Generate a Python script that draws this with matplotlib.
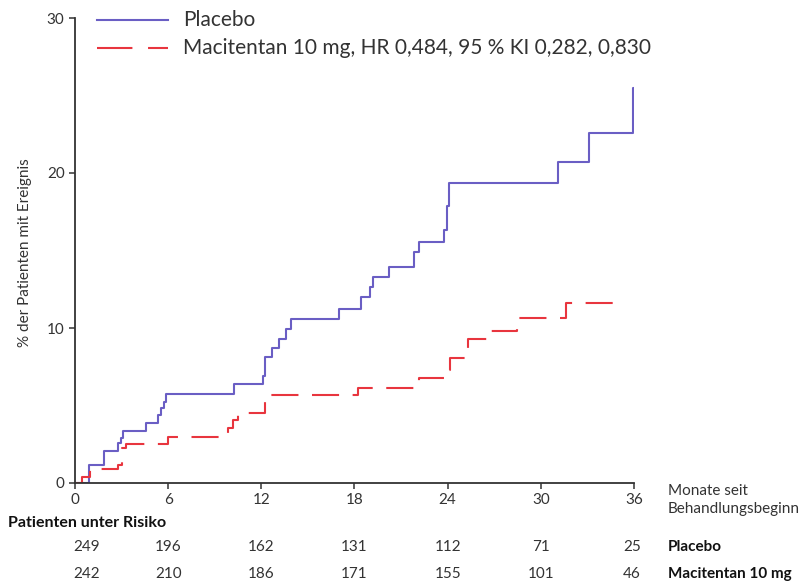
"""Kaplan-Meier style cumulative event curves: Placebo vs Macitentan 10 mg."""

import matplotlib

matplotlib.use("Agg")
import matplotlib.pyplot as plt  # noqa: E402
from matplotlib.lines import Line2D  # noqa: E402

plt.rcParams["font.family"] = ["Lato", "DejaVu Sans"]

# --- data ---
placebo_t = [0, 0.92, 1.89, 2.79, 2.95, 3.11, 4.57, 5.37, 5.51, 5.73, 5.86,
             10.24, 12.08, 12.21, 12.71, 13.11, 13.56, 13.89, 16.98, 18.42,
             19.0, 19.21, 20.22, 21.83, 22.15, 23.76, 23.93, 24.1, 31.08,
             33.08, 35.91, 36]
placebo_y = [0, 1.16, 2.08, 2.56, 2.88, 3.38, 3.89, 4.39, 4.86, 5.25, 5.74,
             6.39, 6.9, 8.1, 8.73, 9.31, 9.94, 10.58, 11.2, 12.02,
             12.67, 13.31, 13.95, 14.88, 15.57, 16.3, 17.87, 19.33, 20.73,
             22.6, 25.46, 25.46]

maci_t = [0, 0.43, 0.97, 2.79, 3.0, 3.3, 6.0, 9.87, 10.2, 10.5, 12.23, 12.45,
          18.2, 22.15, 24.0, 24.15, 25.22, 25.32, 26.72, 28.44, 31.6, 35.4]
maci_y = [0, 0.41, 0.88, 1.16, 2.24, 2.52, 2.99, 3.53, 4.06, 4.54, 5.35, 5.68,
          6.13, 6.8, 7.29, 8.05, 8.69, 9.27, 9.83, 10.67, 11.63, 11.63]

x_ticks = [0, 6, 12, 18, 24, 30, 36]
y_ticks = [0, 10, 20, 30]
risk_placebo = [249, 196, 162, 131, 112, 71, 25]
risk_maci = [242, 210, 186, 171, 155, 101, 46]

PURPLE = "#6a5ec4"
RED = "#e8353e"
GREY = "#333333"

W, H = 812, 584
fig = plt.figure(figsize=(W / 100, H / 100), dpi=100)
ax = fig.add_axes([75 / W, 1 - 483 / H, 559 / W, 465 / H])

ax.step(placebo_t, placebo_y, where="post", color=PURPLE, lw=1.5)
ax.step(maci_t, maci_y, where="post", color=RED, lw=1.5, dashes=(13, 6.5))

ax.set_xlim(0, 36)
ax.set_ylim(0, 30)
ax.set_xticks(x_ticks)
ax.set_yticks(y_ticks)
for side in ("top", "right"):
    ax.spines[side].set_visible(False)
for side in ("left", "bottom"):
    ax.spines[side].set_color(GREY)
    ax.spines[side].set_linewidth(1.3)
ax.tick_params(colors=GREY, labelsize=11, length=4, width=1.1, direction="out")

fig.text(25 / W, 1 - 253 / H, "% der Patienten mit Ereignis", rotation=90,
         ha="center", va="center", fontsize=11, color=GREY)

# legend drawn by hand so it sits exactly where the reference has it
leg_y = [20, 48]
fig.add_artist(Line2D([97 / W, 168 / W], [1 - leg_y[0] / H] * 2,
                      color=PURPLE, lw=1.5))
fig.add_artist(Line2D([97 / W, 168 / W], [1 - leg_y[1] / H] * 2,
                      color=RED, lw=1.5, dashes=(17, 7.5)))
fig.text(183 / W, 1 - leg_y[0] / H, "Placebo", va="center", fontsize=15,
         color=GREY)
fig.text(183 / W, 1 - leg_y[1] / H,
         "Macitentan 10 mg, HR 0,484, 95 % KI 0,282, 0,830",
         va="center", fontsize=15, color=GREY)

# axis caption right of the x axis
fig.text(668 / W, 1 - 500 / H, "Monate seit\nBehandlungsbeginn", va="center",
         fontsize=11, color=GREY, linespacing=1.4)

# numbers at risk
fig.text(8 / W, 1 - 523 / H, "Patienten unter Risiko", va="center",
         fontsize=11.5, fontweight="bold", color="#111111")
for row_y, counts in ((547, risk_placebo), (574, risk_maci)):
    for i, (t, n) in enumerate(zip(x_ticks, counts)):
        xpix = ax.transData.transform((t, 0))[0]
        if i == 0:
            xpix += 12
        elif i == len(counts) - 1:
            xpix -= 2
        fig.text(xpix / W, 1 - row_y / H, str(n), ha="center", va="center",
                 fontsize=11, color=GREY)
fig.text(668 / W, 1 - 547 / H, "Placebo", va="center", fontsize=11,
         fontweight="bold", color="#111111")
fig.text(668 / W, 1 - 574 / H, "Macitentan 10 mg", va="center", fontsize=11,
         fontweight="bold", color="#111111")

fig.savefig("out.png", dpi=100)
